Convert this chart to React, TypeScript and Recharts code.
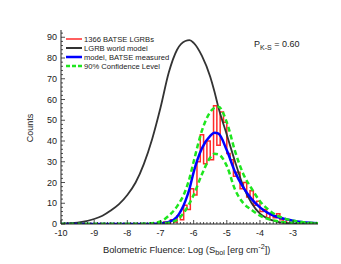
import { LineChart, Line, XAxis, YAxis } from "recharts";

// log fluence grid shared by the smooth curves
const fluenceX = [
  -10, -9.5, -9, -8.75, -8.5, -8.25, -8, -7.75, -7.5, -7.25, -7, -6.75, -6.5, -6.25, -6.125, -6,
  -5.75, -5.5, -5.375, -5.25, -5, -4.75, -4.5, -4.25, -4, -3.75, -3.5, -3.25, -3, -2.75, -2.5, -2.25,
];
const worldModel = [
  0.1, 0.6, 2.4, 4, 6.5, 9.6, 14, 20, 29, 41, 56, 73, 84, 88.2, 88.6, 87.3,
  81, 71, 64, 56, 43, 30, 18, 10, 5, 2.5, 1.2, 0.5, 0.2, 0.1, 0, 0,
];
const batseModel = [
  0, 0, 0, 0, 0, 0, 0, 0, 0, 0.1, 0.3, 1, 3.5, 11, 17, 25,
  36.5, 42.5, 44, 43.5, 35.5, 25, 17.5, 12, 8, 5.2, 3.5, 2.4, 1.6, 1, 0.6, 0.4,
];
const confUpper = [
  0, 0, 0, 0, 0, 0, 0, 0, 0.1, 0.4, 1.2, 4, 8.5, 16, 22, 30,
  45, 54, 56, 56.5, 49, 35, 24, 17, 11, 7, 4.2, 2.6, 1.6, 1, 0.6, 0.4,
];
const confLower = [
  0, 0, 0, 0, 0, 0, 0, 0, 0, 0.1, 0.2, 0.6, 2, 6.5, 10, 14,
  24, 32, 33.8, 33.5, 28, 16.5, 10, 6.8, 4, 2.4, 1.4, 0.8, 0.5, 0.35, 0.25, 0.2,
];

// observed histogram, left bin edges (bin width 0.1)
const histEdges = [
  -7.0, -6.9, -6.8, -6.7, -6.6, -6.5, -6.4, -6.3, -6.2, -6.1, -6.0, -5.9, -5.8, -5.7, -5.6, -5.5,
  -5.4, -5.3, -5.2, -5.1, -5.0, -4.9, -4.8, -4.7, -4.6, -4.5, -4.4, -4.3, -4.2, -4.1, -4.0, -3.9,
  -3.8, -3.7, -3.6, -3.5, -3.4, -3.3, -3.2, -3.1, -3.0,
];
const histCounts = [
  0, 1, 0, 2, 1, 4, 2, 9, 7, 17, 14, 30, 43, 29, 40, 31,
  57, 38, 54, 49, 34, 31, 23, 25, 17, 20, 13, 16, 9, 11, 6, 7,
  3, 5, 3, 5, 2, 1, 2, 0, 0,
];

const xLabels = [-10, -9, -8, -7, -6, -5, -4, -3];
const yLabels = [0, 10, 20, 30, 40, 50, 60, 70, 80, 90];

const xMinor: number[] = [];
for (let i = 0; i <= 77; i++) xMinor.push(Math.round((-10 + i * 0.1) * 10) / 10);
const yMinor: number[] = [];
for (let v = 0; v <= 92; v += 2) yMinor.push(v);

const toPoints = (xs: number[], ys: number[]) => xs.map((x, i) => ({ x, y: ys[i] }));

const worldData = toPoints(fluenceX, worldModel);
const batseData = toPoints(fluenceX, batseModel);
const upperData = toPoints(fluenceX, confUpper);
const lowerData = toPoints(fluenceX, confLower);
const histData = toPoints(histEdges, histCounts);

const FONT = "'Liberation Sans', Arial, sans-serif";
const INK = "#222";
const RED = "#ff2a2a";
const DARK = "#333333";
const BLUE = "#0000ff";
const GREEN = "#1ee61e";

const isLabelX = (v: number) => xLabels.some((l) => Math.abs(l - v) < 1e-6);
const isLabelY = (v: number) => yLabels.includes(v);

const BottomTick = (props: any) => {
  const { x, y, payload } = props;
  const major = isLabelX(payload.value);
  return (
    <g>
      <line x1={x} x2={x} y1={y} y2={y - (major ? 4 : 2)} stroke={INK} strokeWidth={0.8} />
      {major && (
        <text x={x} y={y + 12} textAnchor="middle" fontSize={9} fill={INK} fontFamily={FONT}>
          {payload.value}
        </text>
      )}
    </g>
  );
};

const TopTick = (props: any) => {
  const { x, y, payload } = props;
  const major = isLabelX(payload.value);
  return <line x1={x} x2={x} y1={y} y2={y + (major ? 4 : 2)} stroke={INK} strokeWidth={0.8} />;
};

const LeftTick = (props: any) => {
  const { x, y, payload } = props;
  const major = isLabelY(payload.value);
  return (
    <g>
      <line x1={x} x2={x + (major ? 4 : 2)} y1={y} y2={y} stroke={INK} strokeWidth={0.8} />
      {major && (
        <text x={x - 4} y={y + 3} textAnchor="end" fontSize={9} fill={INK} fontFamily={FONT}>
          {payload.value}
        </text>
      )}
    </g>
  );
};

const RightTick = (props: any) => {
  const { x, y, payload } = props;
  const major = isLabelY(payload.value);
  return <line x1={x} x2={x - (major ? 4 : 2)} y1={y} y2={y} stroke={INK} strokeWidth={0.8} />;
};

const legendRows = [
  { label: "1366 BATSE LGRBs", color: RED, width: 1.5, dash: undefined },
  { label: "LGRB world model", color: DARK, width: 2, dash: undefined },
  { label: "model, BATSE measured", color: BLUE, width: 2.5, dash: undefined },
  { label: "90% Confidence Level", color: GREEN, width: 2.5, dash: "4 2" },
];

const App = () => {
  return (
    <div style={{ position: "absolute", left: 0, top: 0, width: 341, height: 264, background: "#fff" }}>
      <LineChart width={341} height={264} margin={{ top: 30, right: 23, bottom: 0, left: 21 }}>
        <XAxis
          xAxisId="top"
          orientation="top"
          type="number"
          dataKey="x"
          domain={[-10, -2.25]}
          allowDataOverflow
          ticks={xMinor}
          interval={0}
          height={0}
          tickSize={0}
          tickMargin={0}
          tickLine={false}
          tick={TopTick}
          axisLine={{ stroke: INK, strokeWidth: 1 }}
        />
        <XAxis
          xAxisId="main"
          type="number"
          dataKey="x"
          domain={[-10, -2.25]}
          allowDataOverflow
          ticks={xMinor}
          interval={0}
          height={40}
          tickSize={0}
          tickMargin={0}
          tickLine={false}
          tick={BottomTick}
          axisLine={{ stroke: INK, strokeWidth: 1 }}
        />
        <YAxis
          yAxisId="main"
          type="number"
          domain={[0, 93.5]}
          allowDataOverflow
          ticks={yMinor}
          interval={0}
          width={40}
          tickSize={0}
          tickMargin={0}
          tickLine={false}
          tick={LeftTick}
          axisLine={{ stroke: INK, strokeWidth: 1 }}
        />
        <YAxis
          yAxisId="right"
          orientation="right"
          type="number"
          domain={[0, 93.5]}
          allowDataOverflow
          ticks={yMinor}
          interval={0}
          width={0}
          tickSize={0}
          tickMargin={0}
          tickLine={false}
          tick={RightTick}
          axisLine={{ stroke: INK, strokeWidth: 1 }}
        />

        <Line xAxisId="main" yAxisId="main" data={histData} dataKey="y" type="stepAfter"
          stroke={RED} strokeWidth={1.5} dot={false} isAnimationActive={false} />
        <Line xAxisId="main" yAxisId="main" data={worldData} dataKey="y" type="monotone"
          stroke={DARK} strokeWidth={1.8} dot={false} isAnimationActive={false} />
        <Line xAxisId="main" yAxisId="main" data={batseData} dataKey="y" type="monotone"
          stroke={BLUE} strokeWidth={2.5} dot={false} isAnimationActive={false} />
        <Line xAxisId="main" yAxisId="main" data={upperData} dataKey="y" type="monotone"
          stroke={GREEN} strokeWidth={2.5} strokeDasharray="5 3" dot={false} isAnimationActive={false} />
        <Line xAxisId="main" yAxisId="main" data={lowerData} dataKey="y" type="monotone"
          stroke={GREEN} strokeWidth={2.5} strokeDasharray="5 3" dot={false} isAnimationActive={false} />
      </LineChart>

      <svg width={341} height={264} style={{ position: "absolute", left: 0, top: 0, pointerEvents: "none" }}>
        {legendRows.map((r, i) => (
          <g key={r.label}>
            <line x1={66} x2={82} y1={39 + i * 9} y2={39 + i * 9} stroke={r.color}
              strokeWidth={r.width} strokeDasharray={r.dash} />
            <text x={84} y={42 + i * 9} fontSize={7.6} fill={INK} fontFamily={FONT}>{r.label}</text>
          </g>
        ))}
        <text x={254} y={47} fontSize={9} fill={INK} fontFamily={FONT}>
          P<tspan fontSize={7} dy={3}>K-S</tspan><tspan dy={-3}> = 0.60</tspan>
        </text>
        <text transform="translate(33,128) rotate(-90)" textAnchor="middle" fontSize={9} fill={INK} fontFamily={FONT}>
          Counts
        </text>
        <text x={103} y={253} fontSize={9.3} fill={INK} fontFamily={FONT}>
          Bolometric Fluence: Log (S<tspan fontSize={7.2} dy={2}>bol</tspan>
          <tspan dy={-2}> [erg cm</tspan><tspan fontSize={7.2} dy={-4}>-2</tspan><tspan dy={4}>])</tspan>
        </text>
      </svg>
    </div>
  );
};

export default App;
